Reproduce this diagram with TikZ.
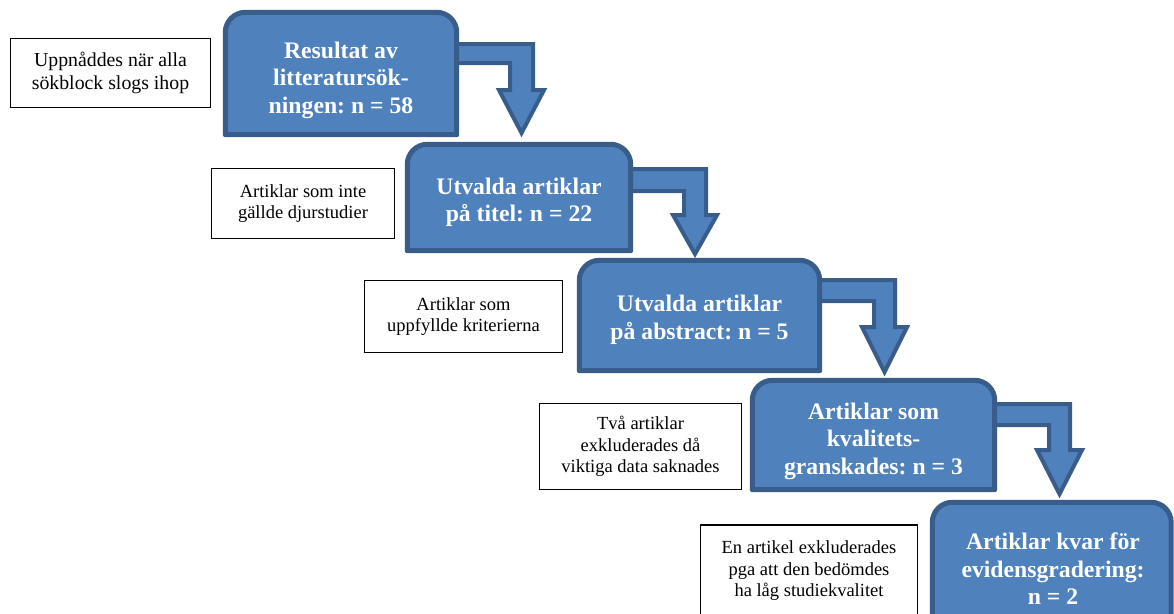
\documentclass[tikz,border=0pt]{standalone}
\usepackage{fontspec}
\setmainfont{Liberation Serif}
\usetikzlibrary{calc,backgrounds}
\definecolor{boxfill}{HTML}{4F81BD}
\definecolor{boxline}{HTML}{385D8A}
\frenchspacing
\newcommand\roundtop[1]{(#1.south west) -- ($(#1.north west)+(0,20)$) .. controls ($(#1.north west)+(0,9)$) and ($(#1.north west)+(9,0)$) .. ($(#1.north west)+(20,0)$) -- ($(#1.north east)+(-20,0)$) .. controls ($(#1.north east)+(-9,0)$) and ($(#1.north east)+(0,9)$) .. ($(#1.north east)+(0,20)$) -- (#1.south east) -- cycle}
\begin{document}
\begin{tikzpicture}[x=1pt,y=-1pt,
  boxframe/.style={draw=none, inner sep=0pt},
  bluebox/.style={fill=boxfill, draw=boxline, line width=5pt, line join=round},
  bluearrow/.style={fill=boxfill, draw=boxline, line width=4pt, line join=miter},
  boxtext/.style={text=white, font=\fontsize{23.7}{27.5}\selectfont\bfseries, align=center, inner sep=0pt},
  notebox/.style={draw=black, line width=1.2pt, fill=white, align=center, inner sep=0pt, font=\fontsize{18.5}{21.5}\selectfont},
]
\useasboundingbox (0,0) rectangle (1174,613);
\clip (0,0) rectangle (1174,613);

% box frames
\node[boxframe, minimum width=231pt, minimum height=122pt] (b1) at (341,73.5) {};
\node[boxframe, minimum width=223pt, minimum height=106pt] (b2) at (519,197.5) {};
\node[boxframe, minimum width=240pt, minimum height=110pt] (b3) at (699.5,315.5) {};
\node[boxframe, minimum width=242pt, minimum height=109pt] (b4) at (873.5,435) {};
\node[boxframe, minimum width=238.5pt, minimum height=127.5pt] (b5) at (1051.75,566.25) {};

% box texts
\node[boxtext] (b1t) at (341,80) {Resultat av\\litteratursök-\\ningen: n = 58};
\node[boxtext] (b2t) at (519,202.5) {Utvalda artiklar\\på titel: n = 22};
\node[boxtext] (b3t) at (699.5,320) {Utvalda artiklar\\på abstract: n = 5};
\node[boxtext] (b4t) at (873.5,441) {Artiklar som\\kvalitets-\\granskades: n = 3};
\node[boxtext] (b5t) at (1053,569) {Artiklar kvar för\\evidensgradering:\\n = 2};

% notes
\node[notebox, font=\fontsize{19.8}{23}\selectfont, minimum width=200pt, minimum height=69pt] (n1) at (110.5,73) {Uppnåddes när alla\\sökblock slogs ihop};
\node[notebox, minimum width=183pt, minimum height=70pt] (n2) at (303,203.5) {Artiklar som inte\\gällde djurstudier};
\node[notebox, minimum width=198pt, minimum height=72pt] (n3) at (463.5,316.5) {Artiklar som\\uppfyllde kriterierna};
\node[notebox, minimum width=202pt, minimum height=86pt] (n4) at (640.5,446.5) {Två artiklar\\exkluderades då\\viktiga data saknades};
\node[notebox, minimum width=217pt, minimum height=92pt] (n5) at (809,571) {En artikel exkluderades\\pga att den bedömdes\\ha låg studiekvalitet};

\begin{scope}[on background layer]
% bent block arrows
\draw[bluearrow] (454,44) -- (533,44) -- (533,90) -- (544,90) -- (521.5,133) -- (499,90) -- (510,90) -- (510,63) -- (454,63) -- cycle;
\draw[bluearrow] (628,169) -- (706,169) -- (706,215) -- (717,215) -- (695,254) -- (673,215) -- (684,215) -- (684,191) -- (628,191) -- cycle;
\draw[bluearrow] (817,280) -- (895,280) -- (895,327) -- (907,327) -- (884.5,372) -- (862,327) -- (874,327) -- (874,301) -- (817,301) -- cycle;
\draw[bluearrow] (992,404) -- (1070,404) -- (1070,450) -- (1082,450) -- (1059.5,494) -- (1037,450) -- (1049,450) -- (1049,425) -- (992,425) -- cycle;
% boxes
\draw[bluebox] \roundtop{b1};
\draw[bluebox] \roundtop{b2};
\draw[bluebox] \roundtop{b3};
\draw[bluebox] \roundtop{b4};
\draw[bluebox] \roundtop{b5};
\end{scope}
\end{tikzpicture}
\end{document}
